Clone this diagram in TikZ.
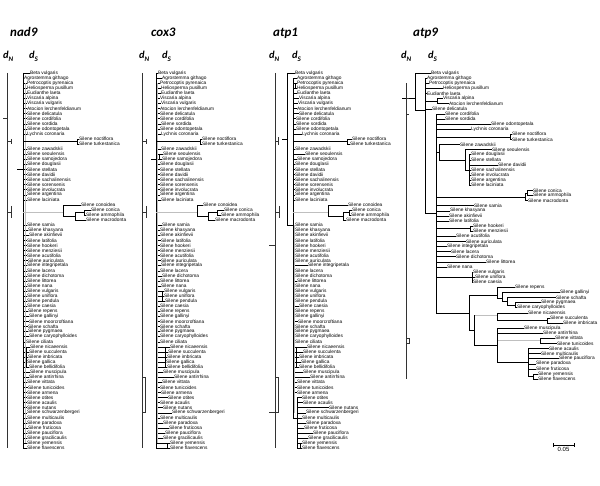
\documentclass[tikz,border=0pt]{standalone}
\usepackage{fontspec}
\setmainfont{Liberation Sans}
\newfontfamily\headfont{Carlito}
\usepackage{tikz}
\usetikzlibrary{arrows.meta,positioning,calc}

\tikzset{
  taxon/.style={anchor=west, inner sep=0pt, font=\fontsize{4.8}{5}\selectfont},
  branch/.style={line width=0.35pt, black},
  greybranch/.style={line width=0.9pt, gray!50},
  dnline/.style={line width=0.5pt, black!80},
  genename/.style={anchor=base west, inner sep=0pt, font=\headfont\bfseries\itshape\fontsize{13}{14}\selectfont},
  ratename/.style={anchor=base west, inner sep=0pt, font=\headfont\bfseries\itshape\fontsize{10.5}{12}\selectfont},
}
\newcommand{\rate}[1]{d\raisebox{-0.28em}{\fontsize{7}{8}\selectfont #1}}

\begin{document}
\begin{tikzpicture}[x=1pt,y=-1pt]
  \useasboundingbox (0,0) rectangle (600,486);

  % Gene names and rate labels
  \node[genename] (g-nad9) at (10,37) {nad9};
  \node[genename] (g-cox3) at (151,37) {cox3};
  \node[genename] (g-atp1) at (273,37) {atp1};
  \node[genename] (g-atp9) at (413,37) {atp9};
  \node[ratename] (dn-nad9) at (3,59) {\rate{N}};
  \node[ratename] (ds-nad9) at (29,59) {\rate{S}};
  \node[ratename] (dn-cox3) at (139,59) {\rate{N}};
  \node[ratename] (ds-cox3) at (162,59) {\rate{S}};
  \node[ratename] (dn-atp1) at (269,59) {\rate{N}};
  \node[ratename] (ds-atp1) at (292,59) {\rate{S}};
  \node[ratename] (dn-atp9) at (401,59) {\rate{N}};
  \node[ratename] (ds-atp9) at (428,59) {\rate{S}};

  % Main axes of the three comb-like trees
  \coordinate (vA) at (23,0);
  \coordinate (vB) at (156,0);
  \coordinate (vC0) at (287,0);
  \coordinate (vC) at (293,0);
  \coordinate (vC2) at (297,0);
  \coordinate (nA) at (7,0);
  \coordinate (nB) at (142,0);
  \coordinate (nC) at (275,0);
  \coordinate (nD) at (406,0);

  % Taxa for nad9, cox3 and atp1 (same order)
  \foreach \nm/\da/\db/\dc/\kd [count=\i] in {
    Beta vulgaris/7/2/2/0,
    Agrostemma githago/1/6/4/0,
    Petrocoptis pyrenaica/4/4/4/0,
    Heliosperma pusillum/4/5/4/0,
    Eudianthe laeta/4/5/4/0,
    Viscaria alpina/4/4/6/0,
    Viscaria vulgaris/4/5/5/0,
    Atocion lerchenfeldianum/4/4/4/0,
    Silene delicatula/4/4/6/0,
    Silene cordifolia/4/4/3/0,
    Silene sordida/4/5/3/0,
    Silene odontopetala/4/4/3/0,
    Lychnis coronaria/4/5/9/0,
    Silene noctiflora/56/46/59/1,
    Silene turkestanica/56/46/57/1,
    Silene zawadskii/4/5/2/0,
    Silene seoulensis/4/7/12/0,
    Silene samojedora/4/6/4/0,
    Silene douglasii/4/4/2/0,
    Silene stellata/4/4/2/0,
    Silene davidii/4/4/2/0,
    Silene sachalinensis/4/4/2/0,
    Silene sorensenis/4/4/2/0,
    Silene involucrata/4/4/2/0,
    Silene argentina/4/4/2/0,
    Silene laciniata/4/5/2/0,
    Silene conoidea/58/47/55/1,
    Silene conica/68/68/59/1,
    Silene ammophila/63/65/58/1,
    Silene macrodonta/63/59/53/1,
    Silene samia/4/6/2/0,
    Silene khasyana/5/4/2/0,
    Silene akinfievii/6/4/2/0,
    Silene latifolia/4/5/2/0,
    Silene hookeri/4/4/2/0,
    Silene menziesii/4/4/2/0,
    Silene acutifolia/4/4/2/0,
    Silene auriculata/5/5/2/0,
    Silene integripetala/4/5/15/0,
    Silene lacera/4/4/2/0,
    Silene dichotoma/4/6/2/0,
    Silene littorea/4/4/4/0,
    Silene nana/4/5/2/0,
    Silene vulgaris/4/8/2/0,
    Silene uniflora/4/8/2/0,
    Silene pendula/4/9/2/0,
    Silene caesia/4/4/6/0,
    Silene repens/5/4/2/0,
    Silene gallinyi/6/4/2/0,
    Silene moorcroftiana/6/4/5/0,
    Silene schafta/5/4/2/0,
    Silene pygmaea/5/4/2/0,
    Silene caryophylloides/6/4/2/0,
    Silene ciliata/3/4/2/0,
    Silene nicaeensis/7/14/14/0,
    Silene succulenta/6/12/10/0,
    Silene imbricata/5/11/6/0,
    Silene gallica/4/10/8/0,
    Silene bellidifolia/6/11/6/0,
    Silene muscipula/7/7/10/0,
    Silene antirrhina/6/18/17/0,
    Silene vittata/4/6/4/0,
    Silene tunicoides/5/4/4/0,
    Silene armena/4/5/4/0,
    Silene otites/4/12/9/0,
    Silene acaulis/4/4/10/0,
    Silene nutans/4/7/36/0,
    Silene schwarzenbergeri/4/16/13/0,
    Silene multicaulis/4/4/9/0,
    Silene paradoxa/4/7/13/0,
    Silene fruticosa/5/13/11/0,
    Silene pauciflora/4/9/20/0,
    Silene gracilicaulis/4/7/15/0,
    Silene yemensis/4/14/9/0,
    Silene flavescens/4/14/9/0} {
    \pgfmathsetmacro{\ry}{73+(\i-1)*5.07}
    \node[taxon] (a\i) at (23+\da,\ry) {\nm};
    \node[taxon] (b\i) at (156+\db,\ry) {\nm};
    \node[taxon] (c\i) at (293+\dc,\ry) {\nm};
    \ifnum\kd=0
      \draw[branch] (a\i.west -| vA) -- (a\i.west);
      \draw[branch] (b\i.west -| vB) -- (b\i.west);
      \ifnum\i>64
        \draw[branch] (c\i.west -| vC2) -- (c\i.west);
      \else
        \draw[branch] (c\i.west -| vC) -- (c\i.west);
      \fi
    \fi
  }

  % small clade bars inside the combs
  \foreach \top/\bot/\xx in {b17/b18/159, b44/b46/162, b55/b59/165, b74/b75/167,
      c3/c4/295, c55/c59/296, c74/c75/300, a55/a59/26} {
    \coordinate (bar) at (\xx,0);
    \draw[branch] (\top.west -| bar) -- (\bot.west -| bar);
  }

  % nad9 dS tree
  \draw[greybranch] (a3.west -| vA) ++(2,0) -- ($(a74.west -| vA)+(2,0)$);
  \draw[branch] (a1.west -| vA) -- (a75.west -| vA);
  \draw[branch] (a20.west -| vA) -- ++(-6,0);
  \coordinate (aN) at (77,141.5);
  \coordinate (aP) at (63,212);
  \coordinate (aQ) at (75,216);
  \coordinate (aR) at (84,212.5);
  \draw[branch] (aN -| vA) -- (aN);
  \draw[branch] (aN) |- (a14.west) (aN) |- (a15.west);
  \draw[greybranch] (aP -| vA) -- (aP);
  \draw[branch] (aP) |- (a27.west) (aP) |- (aQ) (aQ) |- (aR) (aQ) |- (a30.west)
    (aR) |- (a28.west) (aR) |- (a29.west);

  % cox3 dS tree
  \draw[greybranch] (b3.west -| vB) ++(1.5,0) -- ($(b74.west -| vB)+(1.5,0)$);
  \draw[branch] (b1.west -| vB) -- (b75.west -| vB);
  \draw[branch] (b18.west -| vB) -- ++(-5,0);
  \coordinate (bN) at (200,141.5);
  \coordinate (bP) at (197,212);
  \coordinate (bQ) at (208,216);
  \coordinate (bR) at (217,212.5);
  \draw[branch] (bN -| vB) -- (bN);
  \draw[branch] (bN) |- (b14.west) (bN) |- (b15.west);
  \draw[greybranch] (bP -| vB) -- (bP);
  \draw[branch] (bP) |- (b27.west) (bP) |- (bQ) (bQ) |- (bR) (bQ) |- (b30.west)
    (bR) |- (b28.west) (bR) |- (b29.west);

  % atp1 dS tree
  \draw[greybranch] (c31.west -| vC) ++(1.5,0) -- ($(c68.west -| vC)+(1.5,0)$);
  \draw[branch] (c2.west -| vC) -- (c69.west -| vC);
  \draw[branch] (c1.west -| vC0) -- (c31.west -| vC0) -- (c31.west -| vC);
  \draw[branch] (c1.west -| vC0) -- (c1.west);
  \draw[branch] (c14.west -| vC0) -- ++(-5,0);
  \draw[branch] (c65.west -| vC2) -- (c75.west -| vC2);
  \draw[branch] (c69.west -| vC) -- (c69.west -| vC2);
  \coordinate (cN) at (347,141.5);
  \coordinate (cP) at (328,212);
  \coordinate (cQ) at (343,216);
  \coordinate (cR) at (349,212.5);
  \draw[branch] (cN -| vC) -- (cN);
  \draw[branch] (cN) |- (c14.west) (cN) |- (c15.west);
  \draw[greybranch] (cP -| vC) -- (cP);
  \draw[branch] (cP) |- (c27.west) (cP) |- (cQ) (cQ) |- (cR) (cQ) |- (c30.west)
    (cR) |- (c28.west) (cR) |- (c29.west);

  % dN trees
  \draw[dnline] (a1.west -| nA) -- (a75.west -| nA);
  \draw[dnline] (a10.west -| nA) -- ++(-4,0);
  \draw[dnline] (aN -| nA) -- ++(4,0) ++(0,-2.5) -- ++(0,5);
  \draw[dnline] (aP -| nA) -- ++(4,0) ++(0,-6) -- ++(0,12);

  \draw[dnline] (b1.west -| nB) -- (b75.west -| nB);
  \draw[dnline] (bN -| nB) -- ++(4,0) ++(0,-2.5) -- ++(0,5);
  \draw[dnline] (bP -| nB) -- ++(4,0) ++(0,-6) -- ++(0,12);
  \draw[dnline] (b61.west -| nB) -- ++(3,0) -- ($(b68.west -| nB)+(3,0)$) -- (b68.west -| nB);

  \draw[dnline] (c1.west -| nC) -- (c75.west -| nC);
  \draw[dnline] (c35.west -| nC) -- ++(-6,0);
  \draw[dnline] (c68.west -| nC) -- ++(-6,0);
  \draw[dnline] (cN -| nC) -- ++(3,0) ++(0,-4) -- ++(0,8);
  \draw[dnline] (cP -| nC) -- ++(4,0) ++(0,-6) -- ++(0,12);
  \draw[dnline] (c61.west -| nC) -- ++(3,0) -- ($(c68.west -| nC)+(3,0)$) -- (c68.west -| nC);

  % atp9 internal nodes
  \coordinate (R0) at (402,98);
  \coordinate (R) at (415,98);
  \coordinate (N1) at (425,110);
  \coordinate (Nvis) at (437,101);
  \coordinate (Nsil) at (436,213);
  \coordinate (Nnoc) at (510,136.8);
  \coordinate (Nzaw) at (439,152);
  \coordinate (Nsec) at (465,160);
  \coordinate (Ndou) at (469,170);
  \coordinate (Ncon) at (525,197);
  \coordinate (Ncc) at (527,193);
  \coordinate (Nhook) at (470,228.6);
  \coordinate (Nvul) at (472,277);
  \coordinate (Nlow) at (469,313);
  \coordinate (Nrep) at (497,295);
  \coordinate (Nb) at (502,298);
  \coordinate (Nc) at (507,301);
  \coordinate (Nd) at (515,305);
  \coordinate (Nmid) at (474,330);
  \coordinate (Nnic) at (497,315);
  \coordinate (Nsuc) at (547,320.4);
  \coordinate (Nmus) at (497,345);
  \coordinate (Nvit) at (540,340.8);
  \coordinate (Naca) at (528,362);
  \coordinate (Nyem) at (533,376.5);

  \draw[branch] (R0) -- (R);
  \foreach \p/\c in {R/N1, N1/Nvis, N1/Nsil, Nsil/Nnoc, Nsil/Nzaw, Nzaw/Nsec,
      Nsec/Ndou, Nsil/Ncon, Ncon/Ncc, Nsil/Nhook, Nsil/Nvul, Nsil/Nlow,
      Nlow/Nrep, Nrep/Nb, Nb/Nc, Nc/Nd, Nlow/Nmid, Nmus/Naca, Naca/Nyem}
    \draw[branch] (\p) |- (\c);
  \draw[branch] (Nmid) |- (Nmus);
  \draw[greybranch] (Nmid |- Nnic) -- (Nnic);
  \draw[branch] (Nmid) -- (Nmid |- Nnic);
  \draw[greybranch] (Nmus |- Nvit) -- (Nvit);
  \draw[branch] (Nnic) |- (Nsuc);

  % atp9 taxa
  \foreach \nm/\lx/\pn [count=\k] in {
    Beta vulgaris/431/R,
    Agrostemma githago/427/N1,
    Petrocoptis pyrenaica/429/N1,
    Heliosperma pusillum/443/N1,
    Eudianthe laeta/427/N1,
    Viscaria alpina/443/Nvis,
    Atocion lerchenfeldianum/449/Nvis,
    Silene delicatula/432/N1,
    Silene cordifolia/445/Nsil,
    Silene sordida/445/Nsil,
    Silene odontopetala/491/Nsil,
    Lychnis coronaria/471/Nsil,
    Silene noctiflora/512/Nnoc,
    Silene turkestanica/512/Nnoc,
    Silene zawadskii/460/Nzaw,
    Silene seoulensis/492/Nsec,
    Silene douglasii/471/Ndou,
    Silene stellata/471/Ndou,
    Silene davidii/498/Ndou,
    Silene sachalinensis/471/Ndou,
    Silene involucrata/471/Ndou,
    Silene argentina/471/Ndou,
    Silene laciniata/471/Ndou,
    Silene conica/533/Ncc,
    Silene ammophila/533/Ncc,
    Silene macrodonta/528/Ncon,
    Silene samia/474/Nsil,
    Silene khasyana/450/Nsil,
    Silene akinfievii/449/Nsil,
    Silene latifolia/449/Nsil,
    Silene hookeri/473/Nhook,
    Silene menziesii/473/Nhook,
    Silene acutifolia/456/Nsil,
    Silene auriculata/466/Nsil,
    Silene integripetala/447/Nsil,
    Silene lacera/451/Nsil,
    Silene dichotoma/456/Nsil,
    Silene littorea/486/Nsil,
    Silene nana/447/Nsil,
    Silene vulgaris/473/Nvul,
    Silene uniflora/475/Nvul,
    Silene caesia/473/Nvul,
    Silene repens/515/Nrep,
    Silene gallinyi/560/Nb,
    Silene schafta/556/Nc,
    Silene pygmaea/541/Nd,
    Silene caryophylloides/517/Nd,
    Silene nicaeensis/528/Nnic,
    Silene succulenta/550/Nsuc,
    Silene imbricata/563/Nsuc,
    Silene muscipula/524/Nmus,
    Silene antirrhina/543/Nmus,
    Silene vittata/555/Nvit,
    Silene tunicoides/557/Nvit,
    Silene acaulis/549/Naca,
    Silene multicaulis/541/Naca,
    Silene pauciflora/559/Naca,
    Silene paradoxa/536/Naca,
    Silene fruticosa/536/Naca,
    Silene yemensis/538/Nyem,
    Silene flavescens/538/Nyem} {
    \pgfmathsetmacro{\ry}{73+(\k-1)*5.1}
    \node[taxon] (d\k) at (\lx,\ry) {\nm};
    \draw[branch] (\pn) |- (d\k.west);
  }

  % atp9 dN tree
  \draw[dnline] (d3.west -| nD) -- (d61.west -| nD);
  \draw[dnline] (d6.west -| nD) -- ++(3,0);
  \draw[dnline] (d9.west -| nD) -- ++(3,0);
  \draw[dnline] (d53.west -| nD) -- ++(3,0) -- ($(d54.west -| nD)+(3,0)$) -- (d54.west -| nD);

  % Scale bar
  \coordinate (sbL) at (553,445);
  \coordinate (sbR) at (574,445);
  \coordinate (sbM) at (563.5,445);
  \draw[branch, {Bar[width=4pt]}-{Bar[width=4pt]}] (sbL) -- (sbR);
  \node[below=1.8pt of sbM, inner sep=0pt, font=\fontsize{6}{7}\selectfont] (sbtext) {0.05};
\end{tikzpicture}
\end{document}
